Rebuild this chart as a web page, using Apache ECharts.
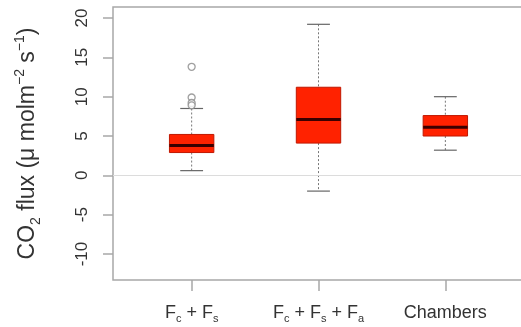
<!DOCTYPE html>
<html>
<head>
<meta charset="utf-8">
<script src="https://cdn.jsdelivr.net/npm/echarts@6/dist/echarts.min.js"></script>
<style>
  html, body { margin: 0; padding: 0; background: #fff; }
  #chart { width: 521px; height: 327px; }
</style>
</head>
<body>
<div id="chart"></div>
<script>
  // groups on the x axis (positions 1, 2, 3)
  const categories = ["Fc+Fs", "Fc+Fs+Fa", "Chambers"];
  const positions = [1, 2, 3];
  // box stats: [whisker low, Q1, median, Q3, whisker high]
  const boxStats = [
    [0.6, 2.9, 3.8, 5.2, 8.5],
    [-2.0, 4.1, 7.1, 11.2, 19.2],
    [3.2, 5.0, 6.1, 7.6, 10.0]
  ];
  // outliers: [position, value]
  const outliers = [
    [1, 13.8],
    [1, 9.9],
    [1, 9.2],
    [1, 8.9]
  ];
  const yTicks = [-10, -5, 0, 5, 10, 15, 20];

  const font = "Liberation Sans, Arial, sans-serif";
  const textColor = "#333";
  const frameColor = "#a8a8a8";

  const boxData = boxStats.map((s, i) => [positions[i], ...s]);

  const xLabelText = {
    "Fc+Fs": "{b|F}{s|c}{b| + F}{s|s}",
    "Fc+Fs+Fa": "{b|F}{s|c}{b| + F}{s|s}{b| + F}{s|a}",
    "Chambers": "{b|Chambers}"
  };

  const chart = echarts.init(document.getElementById("chart"));

  const renderBox = (params, api) => {
    const x = api.value(0);
    const halfBox = 0.175;
    const halfCap = 0.09;
    const p = v => api.coord([x, v]);
    const lo = p(api.value(1));
    const q1 = p(api.value(2));
    const med = p(api.value(3));
    const q3 = p(api.value(4));
    const hi = p(api.value(5));
    const left = api.coord([x - halfBox, 0])[0];
    const right = api.coord([x + halfBox, 0])[0];
    const capL = api.coord([x - halfCap, 0])[0];
    const capR = api.coord([x + halfCap, 0])[0];
    const cx = lo[0];
    const whiskerStyle = { stroke: "#777", lineWidth: 1, lineDash: [2, 2] };
    const capStyle = { stroke: "#666", lineWidth: 1.2 };
    return {
      type: "group",
      children: [
        { type: "line", shape: { x1: cx, y1: hi[1], x2: cx, y2: q3[1] }, style: whiskerStyle },
        { type: "line", shape: { x1: cx, y1: q1[1], x2: cx, y2: lo[1] }, style: whiskerStyle },
        { type: "line", shape: { x1: capL, y1: hi[1], x2: capR, y2: hi[1] }, style: capStyle },
        { type: "line", shape: { x1: capL, y1: lo[1], x2: capR, y2: lo[1] }, style: capStyle },
        {
          type: "rect",
          shape: { x: left, y: q3[1], width: right - left, height: q1[1] - q3[1] },
          style: { fill: "#ff2200", stroke: "#c01800", lineWidth: 1 }
        },
        { type: "line", shape: { x1: left, y1: med[1], x2: right, y2: med[1] }, style: { stroke: "#3a0000", lineWidth: 3 } }
      ]
    };
  };

  const option = {
    animation: false,
    grid: {
      left: 113,
      top: 7,
      width: 411,
      height: 273,
      show: true,
      borderColor: frameColor,
      borderWidth: 1.5,
      containLabel: false,
      outerBoundsMode: "none"
    },
    xAxis: {
      type: "value",
      min: 0.38,
      max: 3.62,
      splitLine: { show: false },
      axisLine: { show: false, onZero: false },
      axisTick: {
        show: true,
        length: 11,
        customValues: positions,
        lineStyle: { color: frameColor, width: 1.5 }
      },
      axisLabel: {
        show: true,
        customValues: positions,
        margin: 22,
        formatter: v => xLabelText[categories[Math.round(v) - 1]] || "",
        rich: {
          b: { fontFamily: font, fontSize: 18, color: textColor, lineHeight: 22 },
          s: { fontFamily: font, fontSize: 11, color: textColor, lineHeight: 12, verticalAlign: "bottom" }
        }
      }
    },
    yAxis: {
      type: "value",
      min: -13.3,
      max: 21.4,
      splitLine: { show: false },
      axisLine: { show: false, onZero: false },
      axisTick: {
        show: true,
        length: 10,
        customValues: yTicks,
        lineStyle: { color: frameColor, width: 1.5 }
      },
      axisLabel: {
        customValues: yTicks,
        rotate: 90,
        margin: 22,
        fontFamily: font,
        fontSize: 17,
        color: textColor
      },
      name: "{b|CO}{s|2}{b| flux (}{b|μ molm}{p|−2}{b| s}{p|−1}{b|)}",
      nameLocation: "middle",
      nameRotate: 90,
      nameGap: 70,
      nameTextStyle: {
        rich: {
          b: { fontFamily: font, fontSize: 23, color: textColor, lineHeight: 30 },
          s: { fontFamily: font, fontSize: 14, color: textColor, lineHeight: 15, verticalAlign: "bottom" },
          p: { fontFamily: font, fontSize: 14, color: textColor, lineHeight: 15, verticalAlign: "top" }
        }
      }
    },
    series: [
      {
        type: "custom",
        renderItem: renderBox,
        encode: { x: 0, y: [1, 2, 3, 4, 5] },
        data: boxData,
        z: 3
      },
      {
        type: "scatter",
        data: outliers,
        symbol: "circle",
        symbolSize: 7,
        itemStyle: { color: "#fff", borderColor: "#888", borderWidth: 1.3 },
        z: 4,
        markLine: {
          silent: true,
          symbol: "none",
          label: { show: false },
          lineStyle: { color: "#dcdcdc", width: 1.2, type: "solid" },
          data: [{ yAxis: 0 }]
        }
      }
    ]
  };

  chart.setOption(option);
</script>
</body>
</html>
